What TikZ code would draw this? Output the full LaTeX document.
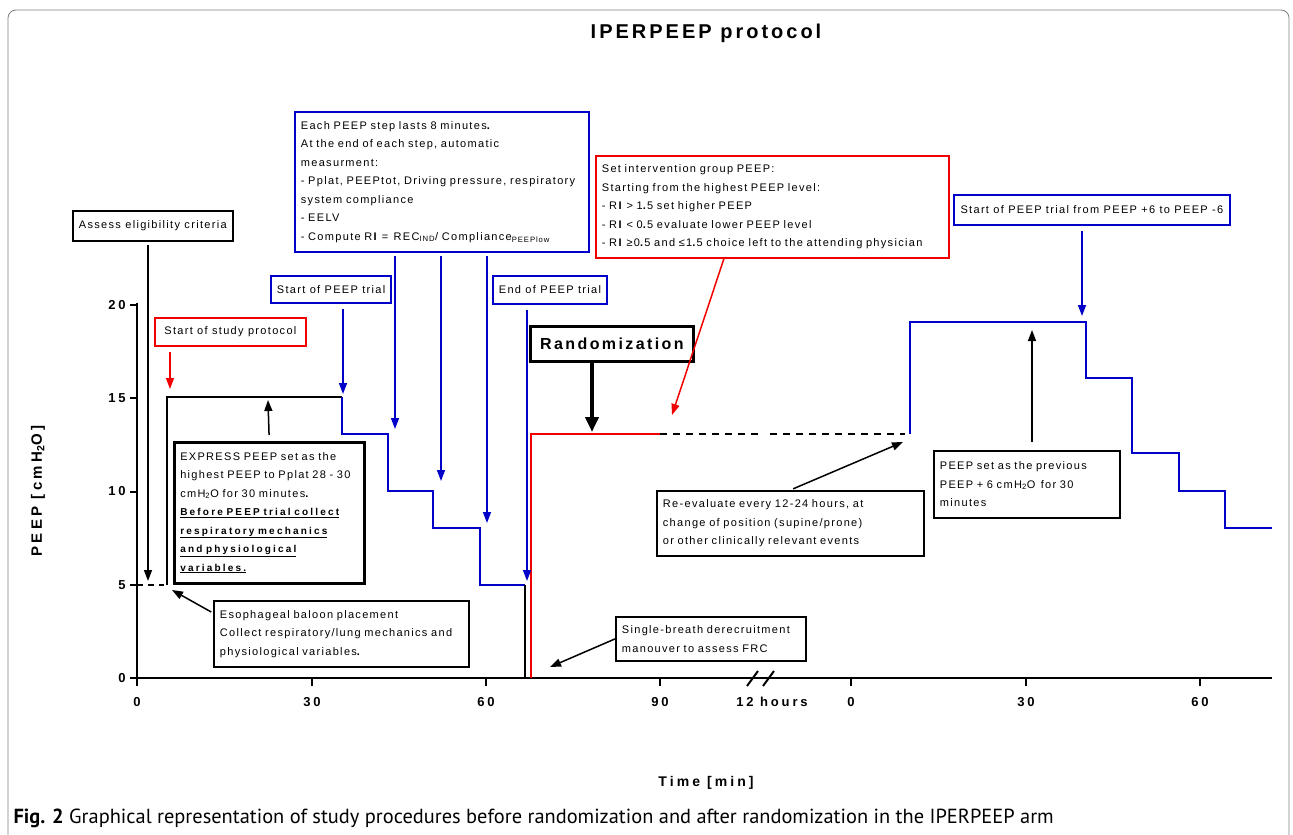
\documentclass[tikz,border=0pt]{standalone}
\usepackage{fontspec}
\setmainfont{Liberation Sans}
\newfontfamily\boxfont[LetterSpace=12]{Liberation Sans}
\newfontfamily\titlefont[LetterSpace=15]{Liberation Sans}
\newfontfamily\axisfont[LetterSpace=22]{Liberation Sans}
\newfontfamily\capfont{PT Sans}
\usetikzlibrary{arrows.meta, positioning}
\definecolor{trialblue}{RGB}{0,0,200}
\definecolor{protred}{RGB}{240,0,0}

\begin{document}
\begin{tikzpicture}[x=1pt, y=-1pt,
    box/.style={draw, line width=1.8pt, fill=white, inner xsep=6pt, inner ysep=3pt,
        anchor=north west, align=left, font=\boxfont\fontsize{11}{18.5}\selectfont},
    bluebox/.style={box, draw=trialblue},
    redbox/.style={box, draw=protred},
    arr/.style={-{Triangle[length=11pt, width=8pt]}, line width=1.5pt},
    curve/.style={line width=2pt},
    ticklab/.style={font=\axisfont\bfseries\fontsize{13}{15}\selectfont}]
    \useasboundingbox (0,0) rectangle (1293,835);

    % Frame and title
    \draw[gray, line width=0.8pt, rounded corners=8pt] (8,835) -- (8,10) -- (1289,10) -- (1289,835);
    \node[font=\titlefont\bfseries\fontsize{20}{22}\selectfont] (title) at (706,33) {IPERPEEP protocol};

    % Axes
    \draw[line width=2pt] (137,303) -- (137,686);
    \draw[line width=2pt] (137,678) -- (1272,678);
    \foreach \v in {0,5,10,15,20}
        \draw[line width=2pt] (137,{678-18.65*\v}) -- (130,{678-18.65*\v})
            node[ticklab, left] {\v};
    \foreach \px/\lab in {312/30, 486/60, 660/90, 851/0, 1026/30, 1200/60}
        \draw[line width=2pt] (\px,678) -- (\px,686);
    \foreach \px/\lab in {137/0, 312/30, 486/60, 660/90, 851/0, 1026/30, 1200/60}
        \node[ticklab] at (\px,702) {\lab};
    \node[ticklab] (hours) at (772,702) {12 hours};
    \draw[line width=2pt] (747,686) -- (758,671);
    \draw[line width=2pt] (763,686) -- (774,671);
    \node[rotate=90, font=\axisfont\bfseries\fontsize{15}{17}\selectfont] (ylab) at (38,491) {PEEP [cmH\textsubscript{2}O]};
    \node[font=\axisfont\bfseries\fontsize{14}{16}\selectfont] (xlab) at (706,783) {Time [min]};

    % PEEP course before randomization
    \draw[curve, dash pattern=on 6pt off 5pt] (137,585) -- (164,585);
    \draw[curve] (167,585) -- (167,397) -- (342,397);
    \draw[curve, trialblue] (342,397) -- (342,434) -- (388,434) -- (388,491) -- (433,491)
        -- (433,528) -- (480,528) -- (480,585) -- (525,585);
    \draw[curve] (525,585) -- (525,678);

    % PEEP course after randomization
    \draw[curve, protred] (531,678) -- (531,434) -- (660,434);
    \draw[curve, dash pattern=on 7pt off 6pt] (660,434) -- (758,434);
    \draw[curve, dash pattern=on 7pt off 6pt] (770,434) -- (905,434);
    \draw[curve, trialblue] (910,434) -- (910,322) -- (1086,322) -- (1086,378) -- (1132,378)
        -- (1132,453) -- (1179,453) -- (1179,491) -- (1225,491) -- (1225,528) -- (1272,528);

    % Boxes
    \node[box, minimum width=159, minimum height=30] (elig) at (72,210) {Assess eligibility criteria};
    \node[redbox, minimum width=151, minimum height=28] (studystart) at (154,317) {Start of study protocol};
    \node[bluebox, minimum width=120, minimum height=27] (trialstart) at (270,275) {Start of PEEP trial};
    \node[bluebox, text width=282, minimum height=140] (steps) at (294,111)
        {Each PEEP step lasts 8 minutes\textbf{.}\\
         At the end of each step, automatic\\
         measurment:\\
         - Pplat, PEEPtot, Driving pressure, respiratory\\
         system compliance\\
         - EELV\\
         - Compute R\textbf{I} =\, REC\textsubscript{IND}/ Compliance\textsubscript{PEEPlow}};
    \node[bluebox, minimum width=113, minimum height=28] (trialend) at (492,275) {End of PEEP trial};
    \node[box, line width=2.8pt, align=center, minimum width=163, minimum height=35,
        font=\titlefont\bfseries\fontsize{16}{18}\selectfont] (random) at (529,325) {Randomization};
    \node[redbox, text width=341, minimum height=102] (setpeep) at (595,155)
        {Set intervention group PEEP:\\
         Starting from the highest PEEP level:\\
         - R\textbf{I} > 1\textbf{.}5 set higher PEEP\\
         - R\textbf{I} < 0\textbf{.}5 evaluate lower PEEP level\\
         - R\textbf{I} ≥0\textbf{.}5 and ≤1\textbf{.}5 choice left to the attending physician};
    \node[bluebox, minimum width=276, minimum height=30] (recheck) at (953,194) {Start of PEEP trial from PEEP +6 to PEEP -6};
    \node[box, line width=2.5pt, text width=178, minimum height=141] (express) at (173,441)
        {EXPRESS PEEP set as the\\
         highest PEEP to Pplat 28 - 30\\
         cmH\textsubscript{2}O for 30 minutes\textbf{.}\\
         \underline{\axisfont\bfseries\fontsize{10}{18.5}\selectfont Before PEEP trial collect}\\
         \underline{\axisfont\bfseries\fontsize{10}{18.5}\selectfont respiratory mechanics}\\
         \underline{\axisfont\bfseries\fontsize{10}{18.5}\selectfont and physiological}\\
         \underline{\axisfont\bfseries\fontsize{10}{18.5}\selectfont variables.}};
    \node[box, text width=243, minimum height=66] (balloon) at (213,600)
        {Esophageal baloon placement\\
         Collect respiratory/lung mechanics and\\
         physiological variables\textbf{.}};
    \node[box, text width=178, minimum height=44] (derecruit) at (615,616)
        {Single-breath derecruitment\\
         manouver to assess FRC};
    \node[box, text width=255, minimum height=65] (reeval) at (656,490)
        {Re-evaluate every 12-24 hours, at\\
         change of position (supine/prone)\\
         or other clinically relevant events};
    \node[box, text width=174, minimum height=67] (plus6) at (933,450)
        {PEEP set as the previous\\
         PEEP + 6 cmH\textsubscript{2}O\, for 30\\
         minutes};

    % Arrows
    \coordinate (eligpt) at (148,581);
    \draw[arr, shorten <=3pt] (elig.south -| eligpt) -- (eligpt);
    \coordinate (studypt) at (170,389);
    \draw[arr, protred, shorten <=5pt] (studystart.south -| studypt) -- (studypt);
    \coordinate (trialpt) at (343,394);
    \draw[arr, trialblue, shorten <=5pt] (trialstart.south -| trialpt) -- (trialpt);
    \foreach \px/\py [count=\i] in {395/429, 441/481, 487/523} {
        \coordinate (step\i) at (\px,\py);
        \draw[arr, trialblue, shorten <=3pt] (steps.south -| step\i) -- (step\i);
    }
    \coordinate (endpt) at (527,581);
    \draw[arr, trialblue, shorten <=5pt] (trialend.south -| endpt) -- (endpt);
    \coordinate (randpt) at (592,432);
    \draw[-{Triangle[length=15pt, width=13pt]}, line width=4pt] (random.south -| randpt) -- (randpt);
    \coordinate (setpt) at (672,415);
    \draw[arr, protred] ([xshift=-48.5pt]setpeep.south) -- (setpt);
    \coordinate (recheckpt) at (1082,316);
    \draw[arr, trialblue, shorten <=5pt] (recheck.south -| recheckpt) -- (recheckpt);
    \coordinate (expresspt) at (268,400);
    \draw[arr, shorten <=6pt] (express.north) -- (expresspt);
    \coordinate (balloonpt) at (172,590);
    \draw[arr, shorten <=2pt] ([yshift=-13pt]balloon.north west) -- (balloonpt);
    \coordinate (derecpt) at (550,667);
    \draw[arr] (derecruit.west) -- (derecpt);
    \coordinate (reevalpt) at (903,442);
    \draw[arr, shorten <=3pt] (reeval.north) -- (reevalpt);
    \coordinate (plus6pt) at (1032,330);
    \draw[arr, shorten <=8pt] (plus6.north -| plus6pt) -- (plus6pt);

    % Caption
    \node[anchor=west, font=\capfont\fontsize{20.4}{22}\selectfont] (caption) at (10,818)
        {\textbf{Fig. 2} Graphical representation of study procedures before randomization and after randomization in the IPERPEEP arm};
\end{tikzpicture}
\end{document}
